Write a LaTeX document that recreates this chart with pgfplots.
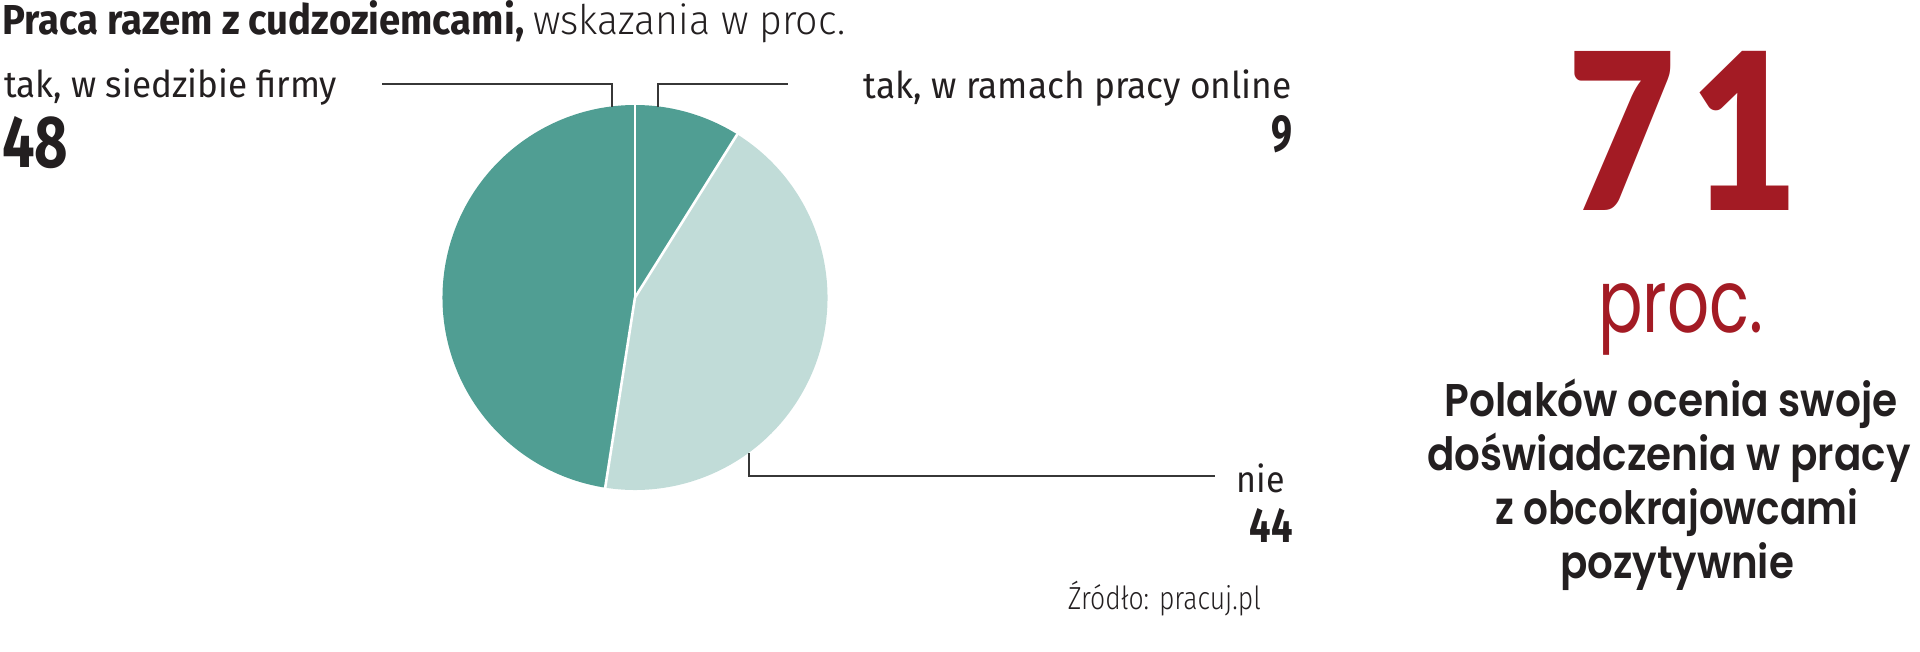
\documentclass[border=0pt]{standalone}
\usepackage{pgfplots}
\pgfplotsset{compat=1.18}
\usepackage{pgfplotstable}
\usepackage{graphicx}
\usepackage{fontspec}
\setmainfont{Fira Sans}
\newfontfamily\flight{Fira Sans Light}
\newfontfamily\psemi{Poppins SemiBold}
\newfontfamily\preg{Poppins}
\newfontfamily\latoblack{Lato Black}
\definecolor{tealA}{RGB}{80,158,147}
\definecolor{tealB}{RGB}{193,220,216}
\definecolor{redA}{RGB}{163,27,36}
\definecolor{ink}{RGB}{35,31,32}
\definecolor{leader}{RGB}{55,55,55}

\pgfplotstableread{
label value
online 9
nie 44
siedziba 48
}\piedata

\begin{document}
\begin{tikzpicture}
\pgfplotstablegetelem{0}{value}\of\piedata \edef\va{\pgfplotsretval}
\pgfplotstablegetelem{1}{value}\of\piedata \edef\vb{\pgfplotsretval}
\pgfplotstablegetelem{2}{value}\of\piedata \edef\vc{\pgfplotsretval}
\pgfmathsetmacro\tot{\va+\vb+\vc}
\pgfmathsetmacro\aA{90}
\pgfmathsetmacro\aB{90-360*(\va/\tot)}
\pgfmathsetmacro\aC{\aB-360*(\vb/\tot)}
\pgfmathsetmacro\aD{\aC-360*(\vc/\tot)}
\begin{axis}[scale only axis, width=1920bp, height=651bp,
  xmin=0, xmax=1920, ymin=0, ymax=651, y dir=reverse,
  hide axis, clip=false]
\path (axis cs:0,0) rectangle (axis cs:1920,651);
% pie wedges
\fill[tealA] (axis cs:635,297.5) -- ++(\aA:192.5bp) arc[start angle=\aA, end angle=\aB, radius=192.5bp] -- cycle;
\fill[tealB] (axis cs:635,297.5) -- ++(\aB:192.5bp) arc[start angle=\aB, end angle=\aC, radius=192.5bp] -- cycle;
\fill[tealA] (axis cs:635,297.5) -- ++(\aC:192.5bp) arc[start angle=\aC, end angle=\aD, radius=192.5bp] -- cycle;
\draw[white, line width=2.6bp] (axis cs:635,297.5) -- ++(\aA:193bp);
\draw[white, line width=2.6bp] (axis cs:635,297.5) -- ++(\aB:193bp);
\draw[white, line width=2.6bp] (axis cs:635,297.5) -- ++(\aC:193bp);
% leader lines
\draw[leader, line width=2bp] (axis cs:382,84) -- (axis cs:612,84) -- (axis cs:612,107);
\draw[leader, line width=2bp] (axis cs:658,107) -- (axis cs:658,84) -- (axis cs:788,84);
\draw[leader, line width=2bp] (axis cs:749,453) -- (axis cs:749,476) -- (axis cs:1215,476);
% title
\node[anchor=base west, inner sep=0, text=ink] at (axis cs:2,35)
  {\fontsize{42}{42}\selectfont\bfseries\resizebox{522bp}{\height}{Praca razem z cudzoziemcami,}};
\node[anchor=base west, inner sep=0, text=ink] at (axis cs:533,35)
  {\fontsize{41}{41}\selectfont\flight\resizebox{312bp}{\height}{wskazania w proc.}};
% labels
\node[anchor=base west, inner sep=0, text=ink] at (axis cs:4,97)
  {\fontsize{37}{37}\selectfont\resizebox{333bp}{\height}{tak, w siedzibie firmy}};
\node[anchor=base west, inner sep=0, text=ink] at (axis cs:2,167)
  {\bfseries\resizebox{66bp}{51bp}{48}};
\node[anchor=base east, inner sep=0, text=ink] at (axis cs:1292,98)
  {\fontsize{37}{37}\selectfont\resizebox{428bp}{\height}{tak, w ramach pracy online}};
\node[anchor=base east, inner sep=0, text=ink] at (axis cs:1293,151)
  {\bfseries\resizebox{21bp}{36bp}{9}};
\node[anchor=base east, inner sep=0, text=ink] at (axis cs:1285,492)
  {\fontsize{37}{37}\selectfont\resizebox{48bp}{\height}{nie}};
\node[anchor=base east, inner sep=0, text=ink] at (axis cs:1293,542)
  {\bfseries\resizebox{43bp}{34bp}{44}};
\node[anchor=base east, inner sep=0, text=ink] at (axis cs:1261,609)
  {\fontsize{32}{32}\selectfont\flight\resizebox{193bp}{\height}{Źródło: pracuj.pl}};
% right block
\node[anchor=base west, inner sep=0, text=redA] at (axis cs:1567,210)
  {\latoblack\resizebox{232bp}{159bp}{7\hspace{0.08em}1}};
\node[anchor=base west, inner sep=0, text=redA] at (axis cs:1598,332)
  {\preg\resizebox{165bp}{49bp}{proc.}};
\node[anchor=base, inner sep=0, text=ink] at (axis cs:1671,416)
  {\fontsize{46}{46}\selectfont\psemi\resizebox{453bp}{\height}{Polaków ocenia swoje}};
\node[anchor=base, inner sep=0, text=ink] at (axis cs:1669,470)
  {\fontsize{46}{46}\selectfont\psemi\resizebox{483bp}{\height}{doświadczenia w pracy}};
\node[anchor=base, inner sep=0, text=ink] at (axis cs:1677,524)
  {\fontsize{46}{46}\selectfont\psemi\resizebox{363bp}{\height}{z obcokrajowcami}};
\node[anchor=base, inner sep=0, text=ink] at (axis cs:1677,578)
  {\fontsize{46}{46}\selectfont\psemi\resizebox{234bp}{\height}{pozytywnie}};
\end{axis}
\end{tikzpicture}
\end{document}
